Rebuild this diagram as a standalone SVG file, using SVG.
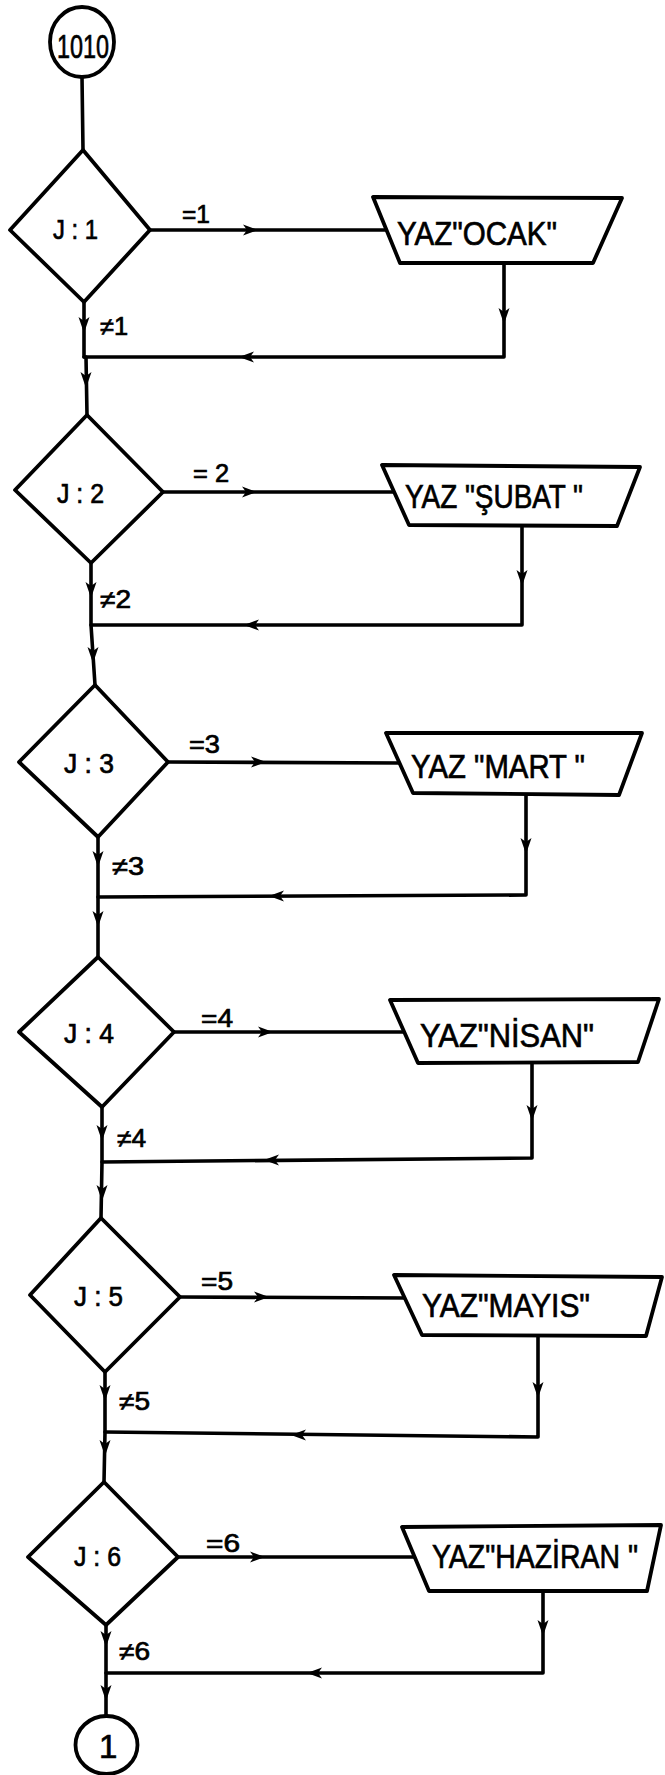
<svg xmlns="http://www.w3.org/2000/svg" xmlns:xlink="http://www.w3.org/1999/xlink" width="665" height="1775" viewBox="0 0 665 1775">
<style>
.ln{fill:none;stroke:#000;stroke-width:3.6;stroke-linejoin:round;stroke-linecap:round}
.sh{fill:#fff;stroke:#000;stroke-width:3.8;stroke-linejoin:round}
.ah{fill:#000;stroke:none}
.t{font-family:"Liberation Sans",Arial,sans-serif;fill:#000;stroke:#000;stroke-width:0.7}
.jl{font-size:28px}
.el{font-size:25px}
.bx{font-size:34px}
.cn{font-size:33px}
</style>
<defs>
<polygon id="aR" class="ah" points="1,0 -14,-5.5 -10,0 -14,5.5"/>
<polygon id="aL" class="ah" points="-1,0 14,-5.5 10,0 14,5.5"/>
<polygon id="aD" class="ah" points="0,1 -5.5,-15 0,-11 5.5,-15"/>
</defs>
<rect width="665" height="1775" fill="#fff"/>

<g id="connectors">
<!-- start -->
<polyline class="ln" points="82,77 83,150"/>
<!-- block 1 -->
<polyline class="ln" points="150,230 387,230"/>
<polyline class="ln" points="504,263 504,357 84,357"/>
<polyline class="ln" points="84,302 84,357 86,357 87,415"/>
<use xlink:href="#aR" x="257" y="230"/>
<use xlink:href="#aD" x="504" y="323"/>
<use xlink:href="#aL" x="240" y="357"/>
<use xlink:href="#aD" x="84" y="332"/>
<use xlink:href="#aD" x="86" y="387"/>
<!-- block 2 -->
<polyline class="ln" points="163,492 396,492"/>
<polyline class="ln" points="522,526 522,625 91,625"/>
<polyline class="ln" points="91,563 91,625 95,685"/>
<use xlink:href="#aR" x="256" y="492"/>
<use xlink:href="#aD" x="522" y="585"/>
<use xlink:href="#aL" x="245" y="625"/>
<use xlink:href="#aD" x="91" y="597"/>
<use xlink:href="#aD" x="93" y="662"/>
<!-- block 3 -->
<polyline class="ln" points="168,762 400,763"/>
<polyline class="ln" points="526,795 526,895 98,897"/>
<polyline class="ln" points="98,837 98,957"/>
<use xlink:href="#aR" x="265" y="762"/>
<use xlink:href="#aD" x="526" y="853"/>
<use xlink:href="#aL" x="270" y="896"/>
<use xlink:href="#aD" x="98" y="866"/>
<use xlink:href="#aD" x="98" y="926"/>
<!-- block 4 -->
<polyline class="ln" points="174,1032 404,1032"/>
<polyline class="ln" points="532,1062 532,1158 102,1162"/>
<polyline class="ln" points="102,1107 102,1162 101,1218"/>
<use xlink:href="#aR" x="272" y="1032"/>
<use xlink:href="#aD" x="532" y="1120"/>
<use xlink:href="#aL" x="265" y="1160"/>
<use xlink:href="#aD" x="102" y="1140"/>
<use xlink:href="#aD" x="102" y="1200"/>
<!-- block 5 -->
<polyline class="ln" points="180,1297 408,1298"/>
<polyline class="ln" points="538,1336 538,1437 105,1432"/>
<polyline class="ln" points="105,1372 105,1432 104,1482"/>
<use xlink:href="#aR" x="268" y="1297"/>
<use xlink:href="#aD" x="538" y="1397"/>
<use xlink:href="#aL" x="292" y="1435"/>
<use xlink:href="#aD" x="105" y="1400"/>
<use xlink:href="#aD" x="105" y="1455"/>
<!-- block 6 -->
<polyline class="ln" points="178,1557 414,1557"/>
<polyline class="ln" points="543,1591 543,1673 106,1673"/>
<polyline class="ln" points="106,1625 106,1715"/>
<use xlink:href="#aR" x="264" y="1557"/>
<use xlink:href="#aD" x="543" y="1635"/>
<use xlink:href="#aL" x="308" y="1673"/>
<use xlink:href="#aD" x="106" y="1646"/>
<use xlink:href="#aD" x="106" y="1700"/>
<!-- branch labels -->
<text class="t el" x="182" y="223" textLength="28" lengthAdjust="spacingAndGlyphs">=1</text>
<text class="t el" x="100" y="335" textLength="28" lengthAdjust="spacingAndGlyphs">≠1</text>
<text class="t el" x="193" y="482" textLength="36" lengthAdjust="spacingAndGlyphs">= 2</text>
<text class="t el" x="100" y="608" textLength="31" lengthAdjust="spacingAndGlyphs">≠2</text>
<text class="t el" x="189" y="753" textLength="31" lengthAdjust="spacingAndGlyphs">=3</text>
<text class="t el" x="112" y="875" textLength="32" lengthAdjust="spacingAndGlyphs">≠3</text>
<text class="t el" x="201" y="1027" textLength="32" lengthAdjust="spacingAndGlyphs">=4</text>
<text class="t el" x="117" y="1147" textLength="29" lengthAdjust="spacingAndGlyphs">≠4</text>
<text class="t el" x="201" y="1290" textLength="32" lengthAdjust="spacingAndGlyphs">=5</text>
<text class="t el" x="119" y="1410" textLength="31" lengthAdjust="spacingAndGlyphs">≠5</text>
<text class="t el" x="206" y="1552" textLength="34" lengthAdjust="spacingAndGlyphs">=6</text>
<text class="t el" x="119" y="1660" textLength="31" lengthAdjust="spacingAndGlyphs">≠6</text>
</g>

<g id="start">
<ellipse class="sh" cx="82" cy="42" rx="32" ry="35"/>
<text class="t cn" x="57" y="58" textLength="52" lengthAdjust="spacingAndGlyphs">1010</text>
</g>

<g id="dec1">
<polygon class="sh" points="83,150 150,230 84,302 10,230"/>
<text class="t jl" x="53" y="239" textLength="45" lengthAdjust="spacingAndGlyphs">J : 1</text>
</g>
<g id="out1">
<polygon class="sh" points="373,197 622,198 593,263 400,263"/>
<text class="t bx" x="397" y="245" textLength="160" lengthAdjust="spacingAndGlyphs">YAZ"OCAK"</text>
</g>

<g id="dec2">
<polygon class="sh" points="87,415 163,492 91,563 15,490"/>
<text class="t jl" x="57" y="503" textLength="47" lengthAdjust="spacingAndGlyphs">J : 2</text>
</g>
<g id="out2">
<polygon class="sh" points="382,465 640,467 617,526 409,525"/>
<text class="t bx" x="405" y="508" textLength="178" lengthAdjust="spacingAndGlyphs">YAZ "ŞUBAT "</text>
</g>

<g id="dec3">
<polygon class="sh" points="95,685 168,762 98,837 19,762"/>
<text class="t jl" x="64" y="773" textLength="50" lengthAdjust="spacingAndGlyphs">J : 3</text>
</g>
<g id="out3">
<polygon class="sh" points="386,733 642,733 619,795 413,793"/>
<text class="t bx" x="411" y="778" textLength="174" lengthAdjust="spacingAndGlyphs">YAZ "MART "</text>
</g>

<g id="dec4">
<polygon class="sh" points="98,957 174,1032 102,1107 19,1032"/>
<text class="t jl" x="64" y="1043" textLength="50" lengthAdjust="spacingAndGlyphs">J : 4</text>
</g>
<g id="out4">
<polygon class="sh" points="390,1000 659,999 638,1062 418,1063"/>
<text class="t bx" x="420" y="1047" textLength="174" lengthAdjust="spacingAndGlyphs">YAZ"NİSAN"</text>
</g>

<g id="dec5">
<polygon class="sh" points="101,1218 180,1297 105,1372 30,1295"/>
<text class="t jl" x="74" y="1306" textLength="49" lengthAdjust="spacingAndGlyphs">J : 5</text>
</g>
<g id="out5">
<polygon class="sh" points="394,1275 662,1277 646,1336 422,1335"/>
<text class="t bx" x="422" y="1317" textLength="168" lengthAdjust="spacingAndGlyphs">YAZ"MAYIS"</text>
</g>

<g id="dec6">
<polygon class="sh" points="104,1482 178,1557 106,1625 28,1557"/>
<text class="t jl" x="74" y="1566" textLength="47" lengthAdjust="spacingAndGlyphs">J : 6</text>
</g>
<g id="out6">
<polygon class="sh" points="402,1527 661,1525 647,1591 429,1591"/>
<text class="t bx" x="432" y="1568" font-size="31" textLength="206" lengthAdjust="spacingAndGlyphs">YAZ"HAZİRAN "</text>
</g>

<g id="end">
<ellipse class="sh" cx="106.5" cy="1745" rx="31" ry="29"/>
<text class="t cn" x="99" y="1758">1</text>
</g>
</svg>
